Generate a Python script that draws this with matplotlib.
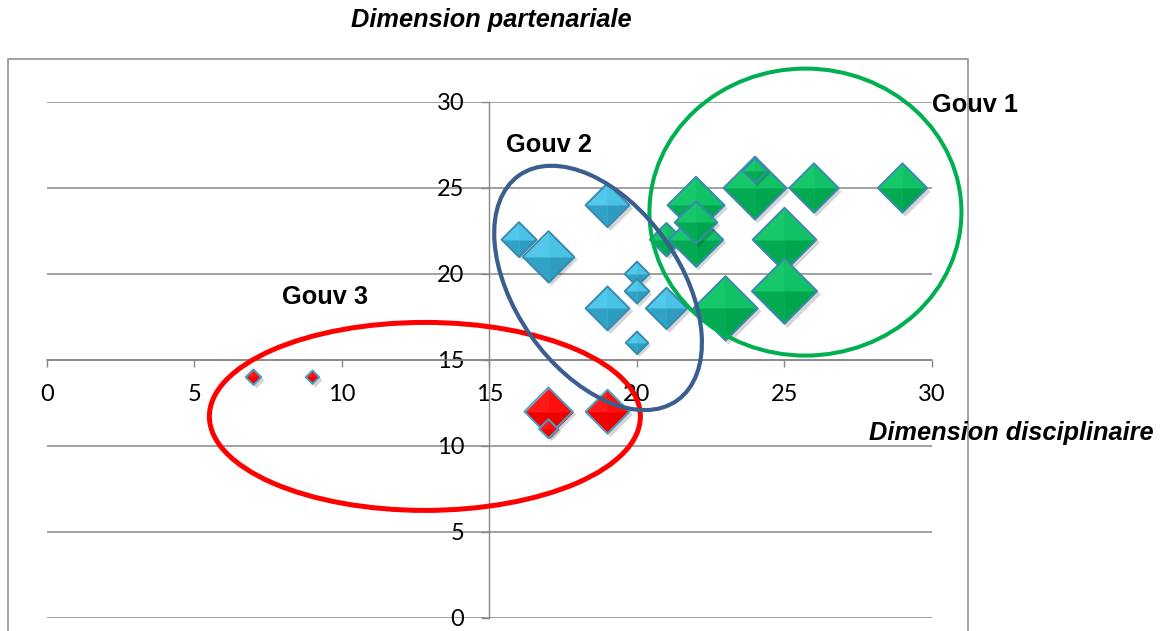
import numpy as np
import matplotlib
matplotlib.use("Agg")
import matplotlib.pyplot as plt
from matplotlib.path import Path
from matplotlib.patches import Ellipse, Rectangle
from matplotlib.transforms import ScaledTranslation

# ---------------- data ----------------
# Gouv 1 (green)
g1_x = [21, 22, 22, 22, 24, 24, 26, 29, 25, 25, 23]
g1_y = [22, 24, 22, 23, 25, 26, 25, 25, 22, 19, 18]
g1_size = [5.5, 16, 14.5, 9, 19.5, 3, 12, 12, 20, 21, 20.5]

# Gouv 2 (blue)
g2_x = [16, 17, 19, 20, 20, 19, 21, 20]
g2_y = [22, 21, 24, 20, 19, 18, 18, 16]
g2_size = [6, 13, 9.5, 3, 3, 9.5, 8.5, 2.5]

# Gouv 3 (red)
g3_x = [7, 9, 17, 19, 17]
g3_y = [14, 14, 12, 12, 11]
g3_size = [1.2, 0.9, 11.5, 9.5, 1.8]

x_ticks = [0, 5, 10, 15, 20, 25, 30]
y_ticks = [0, 5, 10, 15, 20, 25, 30]

x_title = "Dimension disciplinaire"
y_title = "Dimension partenariale"
group_labels = ["Gouv 1", "Gouv 2", "Gouv 3"]

# ---------------- figure ----------------
W, H = 1173, 631
DPI = 100
fig = plt.figure(figsize=(W / DPI, H / DPI), dpi=DPI)
fig.patch.set_facecolor("white")

def px2fig(x, y):
    return x / W, 1 - y / H

ax = fig.add_axes([47 / W, (H - 618) / H, (932 - 47) / W, (618 - 102) / H])
ax.set_xlim(0, 30)
ax.set_ylim(0, 30)
ax.set_facecolor("none")

grey = "#878787"
for sp in ["top", "right"]:
    ax.spines[sp].set_visible(False)
ax.spines["left"].set_position(("data", 15))
ax.spines["bottom"].set_position(("data", 15))
ax.spines["left"].set_color(grey)
ax.spines["bottom"].set_color(grey)
ax.spines["left"].set_linewidth(1.0)
ax.spines["bottom"].set_linewidth(1.1)

ax.set_xticks(x_ticks)
ax.set_yticks(y_ticks)
ax.set_xticklabels([str(v) for v in x_ticks])
ax.set_yticklabels([str(v) for v in y_ticks])
ax.tick_params(axis="x", direction="out", length=5, width=1.0, color=grey,
               pad=12, labelsize=17)
ax.tick_params(axis="y", direction="out", length=6, width=1.0, color=grey,
               pad=12, labelsize=17)
for lab in ax.get_xticklabels() + ax.get_yticklabels():
    lab.set_fontfamily(["Lato", "DejaVu Sans"])
    lab.set_color("#000000")

ax.yaxis.grid(True, color=grey, linewidth=1.1)
ax.xaxis.grid(False)
ax.set_axisbelow(True)

# ---------------- diamond markers ----------------
def closed(verts):
    v = list(verts) + [verts[0]]
    codes = [Path.MOVETO] + [Path.LINETO] * (len(verts) - 1) + [Path.CLOSEPOLY]
    return Path(v, codes)

DIAM = closed([(-1, 0), (0, 1), (1, 0), (0, -1)])
FACETS = [
    closed([(-1, 0), (0, 1), (0, 0)]),   # top-left
    closed([(0, 1), (1, 0), (0, 0)]),    # top-right
    closed([(1, 0), (0, -1), (0, 0)]),   # bottom-right
    closed([(0, -1), (-1, 0), (0, 0)]),  # bottom-left
]

shadow_tr = ax.transData + ScaledTranslation(2.5 / DPI, -2.5 / DPI, fig.dpi_scale_trans)

def draw_series(xs, ys, sizes, facet_cols, edge, z0):
    for i, (x, y, v) in enumerate(zip(xs, ys, sizes)):
        s = 105 * v
        z = z0 + i * 0.01
        ax.scatter([x], [y], s=s * 1.05, marker=DIAM, color="black", alpha=0.16,
                   linewidths=0, transform=shadow_tr, zorder=z)
        ax.scatter([x], [y], s=s, marker=DIAM, color=facet_cols[1],
                   linewidths=0, zorder=z + 0.001)
        for path, c in zip(FACETS, facet_cols):
            ax.scatter([x], [y], s=s, marker=path, color=c, linewidths=0,
                       zorder=z + 0.002)
        ax.scatter([x], [y], s=s, marker=DIAM, facecolors="none",
                   edgecolors=edge, linewidths=1.4, zorder=z + 0.003)

green_cols = ["#17C86B", "#10C265", "#00A64E", "#03AA51"]
blue_cols = ["#52C8EB", "#4AC2E5", "#2D9CBF", "#31A2C5"]
red_cols = ["#FF1A1A", "#FF0E0E", "#EC0000", "#F20000"]

draw_series(g2_x, g2_y, g2_size, blue_cols, "#3A8AB0", 3)
draw_series(g1_x, g1_y, g1_size, green_cols, "#3A8AB0", 4)
draw_series(g3_x, g3_y, g3_size, red_cols, "#46A3C4", 5)

# ---------------- annotation ellipses ----------------
def ellipse(cx, cy, w_px, h_px, angle, color, lw):
    tr = fig.dpi_scale_trans + ScaledTranslation(cx, cy, ax.transData)
    e = Ellipse((0, 0), w_px / DPI, h_px / DPI, angle=angle, transform=tr,
                facecolor="none", edgecolor=color, linewidth=lw, zorder=10,
                clip_on=False)
    fig.add_artist(e)

ellipse(25.71, 23.60, 312, 287, 0, "#00B050", 2.9)
ellipse(12.81, 11.72, 431, 188, 0, "#FF0000", 3.6)
ellipse(18.68, 19.19, 275, 165, -55, "#3A5F8E", 3.0)

# ---------------- texts ----------------
bold = dict(family=["Liberation Sans", "DejaVu Sans"], fontweight="bold", fontsize=18.3)
fig.text(*px2fig(491.5, 20), y_title, ha="center", va="center", style="italic", **bold)
fig.text(*px2fig(1011.5, 433), x_title, ha="center", va="center", style="italic", **bold)
fig.text(*px2fig(932, 105), group_labels[0], ha="left", va="center", **bold)
fig.text(*px2fig(506, 145), group_labels[1], ha="left", va="center", **bold)
fig.text(*px2fig(282, 297), group_labels[2], ha="left", va="center", **bold)

# chart frame
fig.add_artist(Rectangle((8 / W, -0.05), (968 - 8) / W, 0.05 + (H - 59) / H,
                         transform=fig.transFigure, facecolor="none",
                         edgecolor=grey, linewidth=1.1, zorder=0))

fig.savefig("out.png", dpi=DPI)
